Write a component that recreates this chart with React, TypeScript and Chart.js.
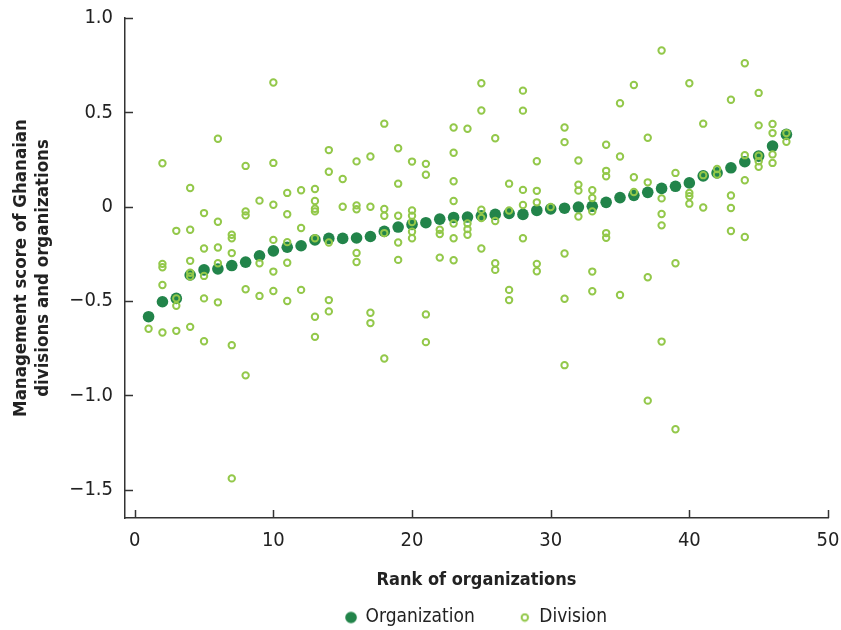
import React, { useEffect, useRef } from "react";
import { Chart, registerables } from "chart.js";

Chart.register(...registerables);

// Rank of organizations 1..47
const ranks: number[] = Array.from({ length: 47 }, (_, i) => i + 1);

// Organization-level management score (ordered by rank)
const organizationScores: number[] = [
  -0.583, -0.504, -0.486, -0.362, -0.335, -0.33, -0.312, -0.294, -0.26, -0.234,
  -0.215, -0.207, -0.176, -0.168, -0.168, -0.166, -0.158, -0.131, -0.108, -0.094,
  -0.085, -0.066, -0.057, -0.055, -0.048, -0.041, -0.036, -0.041, -0.02, -0.012,
  -0.008, -0.002, 0.002, 0.023, 0.048, 0.06, 0.076, 0.097, 0.108, 0.126,
  0.163, 0.179, 0.206, 0.238, 0.268, 0.321, 0.383,
];

// Division-level scores, one list per organization rank
const divisionScores: number[][] = [
  [-0.647],
  [0.23, -0.303, -0.321, -0.415, -0.667],
  [-0.128, -0.486, -0.525, -0.658],
  [0.099, -0.122, -0.287, -0.35, -0.37, -0.637],
  [-0.034, -0.222, -0.367, -0.486, -0.713],
  [0.36, -0.08, -0.216, -0.3, -0.507],
  [-0.149, -0.167, -0.246, -0.734, -1.44],
  [0.216, -0.025, -0.046, -0.438, -0.894],
  [0.032, -0.3, -0.473],
  [0.658, 0.232, 0.01, -0.176, -0.344, -0.447],
  [0.073, -0.04, -0.188, -0.297, -0.5],
  [0.087, -0.113, -0.441],
  [0.094, 0.03, -0.011, -0.025, -0.167, -0.583, -0.69],
  [0.3, 0.185, -0.19, -0.495, -0.555],
  [0.147, 0.0],
  [0.24, 0.007, -0.014, -0.245, -0.293],
  [0.266, 0.0, -0.562, -0.617],
  [0.44, -0.012, -0.048, -0.14, -0.805],
  [0.31, 0.122, -0.048, -0.19, -0.282],
  [0.239, -0.02, -0.048, -0.081, -0.133, -0.167],
  [0.227, 0.169, -0.571, -0.718],
  [-0.122, -0.145, -0.27],
  [0.42, 0.286, 0.135, 0.03, -0.089, -0.167, -0.284],
  [0.413, -0.089, -0.119, -0.149],
  [0.654, 0.51, -0.016, -0.06, -0.222],
  [0.363, -0.076, -0.3, -0.335],
  [0.122, -0.02, -0.441, -0.495],
  [0.615, 0.509, 0.089, 0.009, -0.167],
  [0.241, 0.084, 0.023, -0.303, -0.342],
  [-0.002],
  [0.42, 0.342, -0.248, -0.488, -0.84],
  [0.245, 0.117, 0.085, -0.052],
  [0.087, 0.046, -0.025, -0.344, -0.448],
  [0.328, 0.19, 0.161, -0.14, -0.165],
  [0.548, 0.266, -0.468],
  [0.645, 0.156, 0.078],
  [0.365, 0.129, -0.374, -1.028],
  [0.828, 0.044, -0.039, -0.099, -0.715],
  [0.179, -0.3, -1.18],
  [0.654, 0.073, 0.055, 0.016],
  [0.44, 0.167, -0.004],
  [0.2, 0.17],
  [0.567, 0.059, -0.007, -0.129],
  [0.76, 0.273, 0.14, -0.161],
  [0.603, 0.431, 0.27, 0.241, 0.211],
  [0.438, 0.39, 0.277, 0.232],
  [0.39, 0.344],
];

const xTickValues: number[] = [0, 10, 20, 30, 40, 50];
const yTickValues: number[] = [-1.5, -1.0, -0.5, 0, 0.5, 1.0];

const seriesNames = ["Organization", "Division"];
const xTitle = "Rank of organizations";
const yTitle = ["Management score of Ghanaian", "divisions and organizations"];

const ORG_COLOR = "#22844a";
const DIV_COLOR = "#93c84a";
const AXIS_COLOR = "#333333";
const FONT = "'Liberation Sans Narrow', 'DejaVu Sans Condensed', 'Liberation Sans', sans-serif";

function fmtY(v: number): string {
  if (Math.abs(v) < 1e-9) return "0";
  return v.toFixed(1).replace("-", "\u2212");
}

function makeMarker(kind: "fill" | "ring"): HTMLCanvasElement {
  const c = document.createElement("canvas");
  const size = kind === "fill" ? 14 : 10;
  c.width = size;
  c.height = size;
  const g = c.getContext("2d")!;
  g.beginPath();
  if (kind === "fill") {
    g.arc(size / 2, size / 2, 5.8, 0, Math.PI * 2);
    g.fillStyle = ORG_COLOR;
    g.fill();
  } else {
    g.arc(size / 2, size / 2, 3.2, 0, Math.PI * 2);
    g.lineWidth = 2;
    g.strokeStyle = DIV_COLOR;
    g.stroke();
  }
  return c;
}

const inwardTicks = {
  id: "inwardTicks",
  afterDraw(chart: any) {
    const { ctx, chartArea, scales } = chart;
    ctx.save();
    ctx.strokeStyle = AXIS_COLOR;
    ctx.lineWidth = 1.5;
    yTickValues.forEach((v) => {
      const y = Math.round(scales.y.getPixelForValue(v)) + 0.5;
      ctx.beginPath();
      ctx.moveTo(chartArea.left, y);
      ctx.lineTo(chartArea.left + 8, y);
      ctx.stroke();
    });
    xTickValues.forEach((v) => {
      const x = Math.round(scales.x.getPixelForValue(v)) + 0.5;
      ctx.beginPath();
      ctx.moveTo(x, chartArea.bottom);
      ctx.lineTo(x, chartArea.bottom - 8);
      ctx.stroke();
    });
    ctx.restore();
  },
};

export default function App() {
  const ref = useRef<HTMLCanvasElement | null>(null);

  useEffect(() => {
    document.body.style.margin = "0";
    const canvas = ref.current;
    if (!canvas) return;

    const orgPoints = ranks.map((r, i) => ({ x: r, y: organizationScores[i] }));
    const divPoints: { x: number; y: number }[] = [];
    divisionScores.forEach((list, i) => {
      list.forEach((v) => divPoints.push({ x: ranks[i], y: v }));
    });

    const orgMarker = makeMarker("fill");
    const divMarker = makeMarker("ring");

    const chart = new Chart(canvas, {
      type: "scatter",
      data: {
        datasets: [
          {
            label: seriesNames[0],
            data: orgPoints,
            backgroundColor: ORG_COLOR,
            borderColor: ORG_COLOR,
            borderWidth: 0,
            pointRadius: 5.8,
            pointHoverRadius: 5.8,
            order: 2,
          },
          {
            label: seriesNames[1],
            data: divPoints,
            backgroundColor: "rgba(0,0,0,0)",
            borderColor: DIV_COLOR,
            borderWidth: 2,
            pointRadius: 3.2,
            pointHoverRadius: 3.2,
            order: 1,
          },
        ],
      },
      options: {
        animation: false,
        responsive: false,
        maintainAspectRatio: false,
        layout: { padding: { top: 18, right: 13, left: 0, bottom: 0 } },
        plugins: {
          tooltip: { enabled: false },
          legend: {
            display: true,
            position: "bottom",
            fullSize: false,
            maxHeight: 67,
            labels: {
              usePointStyle: true,
              boxWidth: 10,
              boxHeight: 10,
              padding: 45,
              color: "#222",
              font: { family: FONT, size: 19 },
              sort: (a: any, b: any) => a.datasetIndex - b.datasetIndex,
              generateLabels: (ch: any) => {
                const items = Chart.defaults.plugins.legend.labels.generateLabels(ch);
                return items.map((it: any) => ({
                  ...it,
                  pointStyle: it.datasetIndex === 0 ? orgMarker : divMarker,
                }));
              },
            },
          },
        },
        scales: {
          x: {
            type: "linear",
            min: -0.7,
            max: 50,
            afterBuildTicks: (s: any) => {
              s.ticks = xTickValues.map((v) => ({ value: v }));
            },
            afterFit: (s: any) => {
              s.height = 45;
              s.paddingLeft = 0;
              s.paddingRight = 0;
            },
            grid: { display: false, drawTicks: false },
            border: { display: true, color: AXIS_COLOR, width: 1.5 },
            ticks: {
              padding: 11,
              color: "#222",
              font: { family: FONT, size: 20 },
              maxRotation: 0,
              autoSkip: false,
            },
            title: {
              display: true,
              text: xTitle,
              color: "#222",
              font: { family: FONT, size: 18, weight: "bold" },
              padding: { top: 0, bottom: -28 },
            },
          },
          y: {
            type: "linear",
            min: -1.65,
            max: 1.0,
            afterBuildTicks: (s: any) => {
              s.ticks = yTickValues.map((v) => ({ value: v }));
            },
            afterFit: (s: any) => {
              s.width = 125;
              s.paddingTop = 0;
              s.paddingBottom = 0;
            },
            grid: { display: false, drawTicks: false },
            border: { display: true, color: AXIS_COLOR, width: 1.5 },
            ticks: {
              padding: 12,
              color: "#222",
              font: { family: FONT, size: 20 },
              autoSkip: false,
              callback: (v: any) => fmtY(Number(v)),
            },
            title: {
              display: true,
              text: yTitle,
              color: "#222",
              font: { family: FONT, size: 18.5, weight: "bold", lineHeight: 1.2 },
              padding: { top: 10, bottom: 0 },
            },
          },
        },
      },
      plugins: [inwardTicks],
    });

    return () => chart.destroy();
  }, []);

  return (
    <div style={{ width: 841, height: 630 }}>
      <canvas ref={ref} width={841} height={630} style={{ display: "block" }} />
    </div>
  );
}
